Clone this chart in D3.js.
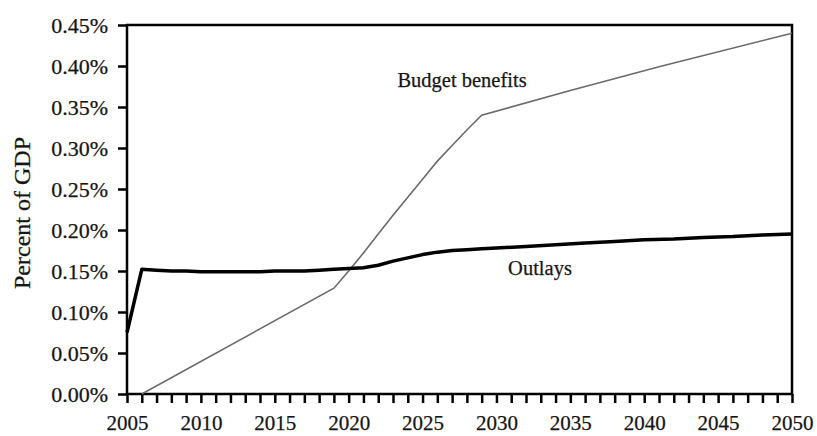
<!DOCTYPE html>
<html><head><meta charset="utf-8">
<script src="https://cdn.jsdelivr.net/npm/d3@7"></script>
<style>body{margin:0;background:#fff}svg{display:block}</style>
</head><body>
<svg id="c" width="817" height="436"></svg>
<script>
const years = d3.range(2005, 2051);
const yTicks = [0, 0.0005, 0.001, 0.0015, 0.002, 0.0025, 0.003, 0.0035, 0.004, 0.0045];
const xTickLabels = [2005, 2010, 2015, 2020, 2025, 2030, 2035, 2040, 2045, 2050];

const outlayYears = [2005,2006,2007,2008,2009,2010,2011,2012,2013,2014,2015,2016,2017,2018,2019,2020,2021,2022,2023,2024,2025,2026,2027,2028,2029,2030,2032,2034,2036,2038,2040,2042,2044,2046,2048,2050];
const outlayValues = [0.00075,0.00152,0.00151,0.00150,0.00150,0.00149,0.00149,0.00149,0.00149,0.00149,0.00150,0.00150,0.00150,0.00151,0.00152,0.00153,0.00154,0.00157,0.00162,0.00166,0.00170,0.00173,0.00175,0.00176,0.00177,0.00178,0.00180,0.00182,0.00184,0.00186,0.00188,0.00189,0.00191,0.00192,0.00194,0.00195];

const benefitYears = [2006,2019,2020,2021,2022,2023,2024,2025,2026,2027,2028,2029,2035,2041,2050];
const benefitValues = [0.0,0.00129,0.00150,0.00172,0.00195,0.00218,0.00240,0.00262,0.00284,0.00303,0.00322,0.00340,0.00370,0.00399,0.00440];

const svg = d3.select("#c");
const L = 127, R = 792, T = 25, B = 394;
const x = d3.scaleLinear().domain([2005, 2050]).range([L, R]);
const y = d3.scaleLinear().domain([0, 0.0045]).range([B, T]);
const font = "'Liberation Serif', 'Times New Roman', serif";

function styleText(sel, size) {
  sel.attr("font-family", font).style("font-family", font)
     .attr("font-size", size).attr("fill", "#151515")
     .attr("stroke", "#151515").attr("stroke-width", 0.25);
}

// y axis
const yAxis = svg.append("g").attr("transform", `translate(${L},0)`)
  .call(d3.axisLeft(y).tickValues(yTicks).tickFormat(d3.format(".2%")).tickSize(9).tickPadding(10));
yAxis.select(".domain").remove();
yAxis.selectAll("line").attr("stroke", "#000").attr("stroke-width", 2.5);
styleText(yAxis.selectAll("text"), 22);

// x axis
const xAxis = svg.append("g").attr("transform", `translate(0,${B})`)
  .call(d3.axisBottom(x).tickValues(years).tickFormat(d => xTickLabels.includes(d) ? d : "").tickSize(9).tickPadding(12));
xAxis.select(".domain").remove();
xAxis.selectAll("line").attr("stroke", "#000").attr("stroke-width", 2.5);
styleText(xAxis.selectAll("text"), 21);

// frame
svg.append("rect").attr("x", L).attr("y", T).attr("width", R - L).attr("height", B - T)
  .attr("fill", "none").attr("stroke", "#000").attr("stroke-width", 2.5);

// benefits line
const benefits = benefitYears.map((yr, i) => [yr, benefitValues[i]]);
svg.append("path").datum(benefits)
  .attr("d", d3.line().x(d => x(d[0])).y(d => y(d[1])))
  .attr("fill", "none").attr("stroke", "#6a6a6a").attr("stroke-width", 1.6);

// outlays line
const outlays = outlayYears.map((yr, i) => [yr, outlayValues[i]]);
svg.append("path").datum(outlays)
  .attr("d", d3.line().x(d => x(d[0])).y(d => y(d[1])))
  .attr("fill", "none").attr("stroke", "#000").attr("stroke-width", 3.5)
  .attr("stroke-linejoin", "round");

// labels
styleText(svg.append("text").attr("x", 462).attr("y", 87).attr("text-anchor", "middle").text("Budget benefits"), 20.5);
styleText(svg.append("text").attr("x", 540).attr("y", 275).attr("text-anchor", "middle").text("Outlays"), 20.5);
styleText(svg.append("text").attr("transform", "translate(30,213) rotate(-90)").attr("text-anchor", "middle").text("Percent of GDP"), 24);
</script>
</body></html>
